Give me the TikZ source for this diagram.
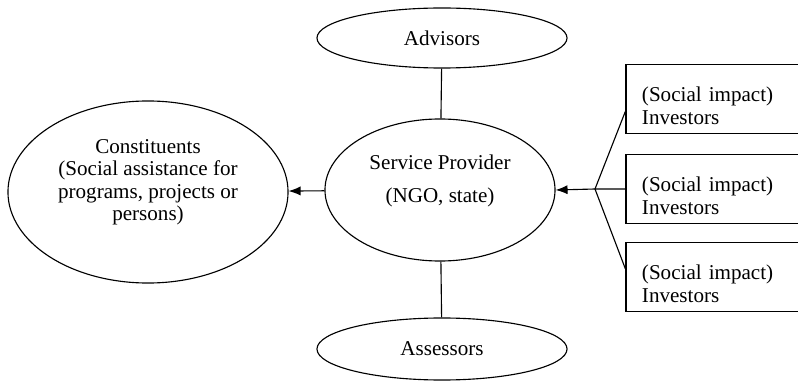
\documentclass[tikz,border=0pt]{standalone}
\usepackage{fontspec}
\setmainfont{Liberation Serif}
\usepackage{tikz}
\usetikzlibrary{positioning,arrows.meta,shapes.geometric}

\begin{document}
\begin{tikzpicture}[x=0.025cm,y=-0.025cm,>={Latex[length=8.5pt,width=6.5pt]},
  party/.style={ellipse,draw,line width=0.8pt,inner sep=0pt,align=center,font=\fontsize{15}{16}\selectfont},
  fund/.style={draw,line width=1pt,inner ysep=0pt,inner xsep=0.4cm,text width=3.8cm,minimum height=1.72cm,align=left,text height=20pt,font=\fontsize{15}{16}\selectfont}]
\path[use as bounding box,clip] (0,0) rectangle (798,381);
% the parties round the service provider
\node[party,minimum width=5.75cm,minimum height=3.55cm,text depth=16pt] (sp) at (440,190) {Service Provider\\[7pt](NGO, state)};
\node[party,minimum width=6.25cm,minimum height=1.5cm] (adv) at (442,38) {Advisors};
\node[party,minimum width=6.25cm,minimum height=1.55cm] (ass) at (442,349) {Assessors};
\node[party,minimum width=7cm,minimum height=4.55cm,text depth=17pt] (con) at (148,192) {Constituents\\(Social assistance for\\programs, projects or\\persons)};
% investors on the right, cut by the page edge
\node[fund] (inv1) at (718,99) {(Social impact)\\Investors};
\node[fund] (inv2) at (718,189) {(Social impact)\\Investors};
\node[fund] (inv3) at (718,277) {(Social impact)\\Investors};
\coordinate (fork) at (595,189);
\draw[line width=0.8pt] (adv) -- (sp) -- (ass);
\draw[->,line width=0.8pt] (sp) -- (con);
\draw[line width=0.8pt] ([yshift=-9pt]inv1.west) -- (fork) -- ([yshift=6pt]inv3.west);
\draw[->,line width=0.8pt] (inv2.west) -- (fork) -- (sp.east);
\end{tikzpicture}
\end{document}
